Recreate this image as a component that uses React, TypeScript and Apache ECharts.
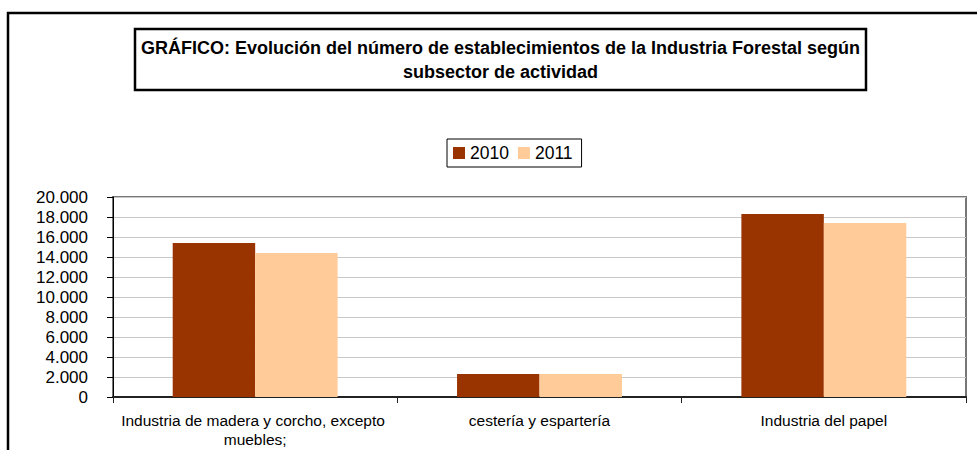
import React, { useEffect, useRef } from "react";
import * as echarts from "echarts";

const categories = [
  "Industria de madera y corcho, excepto muebles;",
  "cestería y espartería",
  "Industria del papel",
];
const seriesNames = ["2010", "2011"];
const values2010 = [15400, 2300, 18300];
const values2011 = [14400, 2300, 17400];
const yTicks = { min: 0, max: 20000, interval: 2000 };
const titleText =
  "GRÁFICO: Evolución del número de establecimientos de la Industria Forestal según\nsubsector de actividad";

const FONT = "'Liberation Sans', Arial, sans-serif";

const fmt = (v: number) => String(v).replace(/\B(?=(\d{3})+(?!\d))/g, ".");

export default function App() {
  const ref = useRef<HTMLDivElement>(null);
  useEffect(() => {
    if (!ref.current) return;
    const chart = echarts.init(ref.current, undefined, { renderer: "svg" });
    chart.setOption({
      animation: false,
      backgroundColor: "#ffffff",
      textStyle: { fontFamily: FONT },
      graphic: [
        {
          type: "rect",
          shape: { x: 8, y: 13, width: 1100, height: 600 },
          style: { fill: "none", stroke: "#000", lineWidth: 2.5 },
          silent: true,
        },
        {
          type: "rect",
          shape: { x: 135, y: 29, width: 731, height: 61 },
          style: { fill: "#fff", stroke: "#000", lineWidth: 2.5 },
          silent: true,
        },
        {
          type: "text",
          x: 500.5,
          y: 59.5,
          style: {
            text: titleText,
            fontFamily: FONT,
            fontWeight: "bold",
            fontSize: 18,
            lineHeight: 24,
            fill: "#000",
            align: "center",
            verticalAlign: "middle",
          },
        },
      ],
      legend: {
        data: seriesNames,
        left: 447,
        top: 139,
        orient: "horizontal",
        icon: "rect",
        itemWidth: 12,
        itemHeight: 12,
        itemGap: 9,
        padding: [5, 9, 5, 6],
        borderColor: "#000",
        borderWidth: 1,
        textStyle: { fontFamily: FONT, fontSize: 17.5, color: "#000" },
      },
      grid: {
        left: 113,
        right: 11,
        top: 197,
        bottom: 53,
        show: true,
        borderColor: "#777",
        borderWidth: 2,
        backgroundColor: "transparent",
      },
      xAxis: {
        type: "category",
        data: categories,
        boundaryGap: true,
        axisLine: { lineStyle: { color: "#222", width: 2 } },
        axisTick: { show: true, length: 6, lineStyle: { color: "#222" } },
        axisLabel: {
          fontFamily: FONT,
          fontSize: 15.5,
          color: "#000",
          margin: 14,
          lineHeight: 19,
          width: 280,
          overflow: "break",
          interval: 0,
        },
      },
      yAxis: {
        type: "value",
        min: yTicks.min,
        max: yTicks.max,
        interval: yTicks.interval,
        axisLine: { show: true, lineStyle: { color: "#000", width: 1 } },
        axisTick: { show: true, length: 6, lineStyle: { color: "#000" } },
        axisLabel: {
          fontFamily: FONT,
          fontSize: 17,
          color: "#000",
          margin: 25,
          formatter: (v: number) => fmt(v),
        },
        splitLine: { show: true, lineStyle: { color: "#c8c8c8", width: 1 } },
      },
      series: [
        {
          name: seriesNames[0],
          type: "bar",
          data: values2010,
          itemStyle: { color: "#993300" },
          barGap: "0%",
          barCategoryGap: "42%",
        },
        {
          name: seriesNames[1],
          type: "bar",
          data: values2011,
          itemStyle: { color: "#FFCC99" },
          barGap: "0%",
          barCategoryGap: "42%",
        },
      ],
    });
    return () => chart.dispose();
  }, []);
  return (
    <div
      ref={ref}
      style={{ position: "absolute", left: 0, top: 0, width: 977, height: 450 }}
    />
  );
}
